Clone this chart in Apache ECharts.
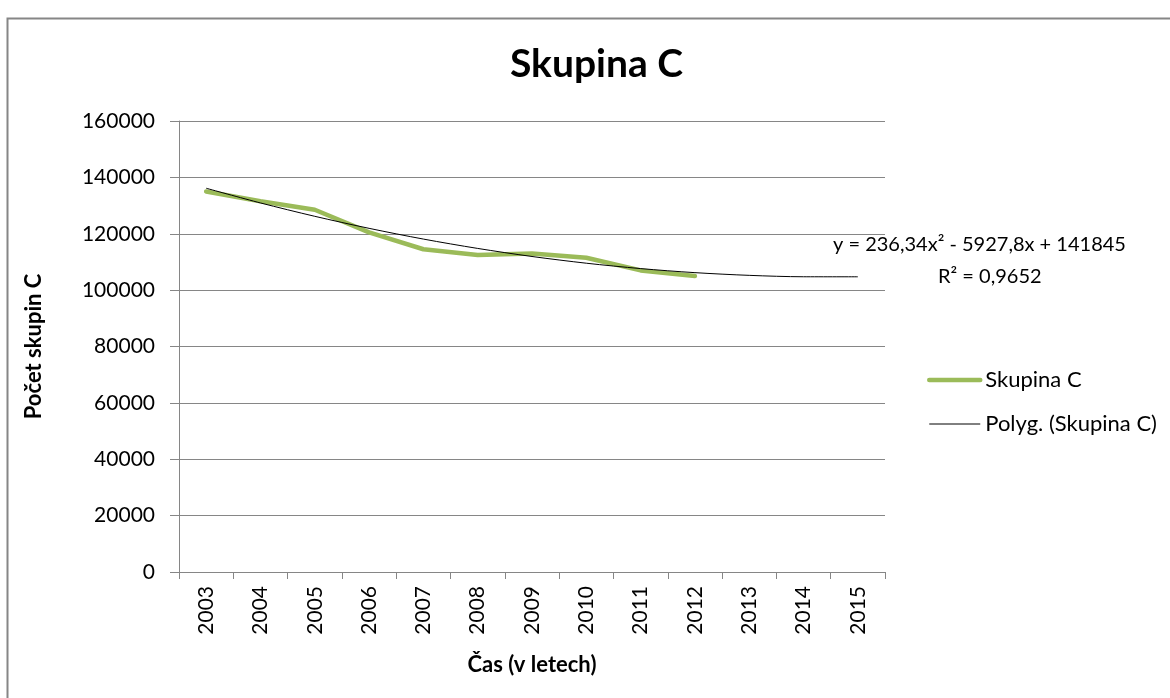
<!DOCTYPE html>
<html>
<head>
<meta charset="utf-8">
<title>Skupina C</title>
<script src="https://cdn.jsdelivr.net/npm/echarts@6/dist/echarts.min.js"></script>
<style>
  html, body { margin: 0; padding: 0; background: #fff; }
  #chart { width: 1170px; height: 698px; }
</style>
</head>
<body>
<div id="chart"></div>
<script>
var years = ['2003', '2004', '2005', '2006', '2007', '2008', '2009', '2010', '2011', '2012', '2013', '2014', '2015'];
var skupinaC = [135000, 131500, 128500, 120500, 114500, 112500, 113000, 111500, 107000, 105000];
// polynomial trend (Excel), read at each year
var trendC = [136150, 130930, 126190, 121920, 118110, 114790, 111930, 109550, 107640, 106200, 105240, 104740, 104730];
var yTicks = [0, 20000, 40000, 60000, 80000, 100000, 120000, 140000, 160000];

var font = 'Lato, "Open Sans", sans-serif';
var gray = '#868686';

var chart = echarts.init(document.getElementById('chart'));

var option = {
    backgroundColor: '#fff',
    animation: false,
    title: {
        text: 'Skupina C',
        left: 505,
        top: 40,
        textStyle: { fontFamily: font, fontSize: 39, fontWeight: 'bold', color: '#000' }
    },
    grid: { left: 179, right: 285, top: 121, bottom: 126 },
    legend: {
        orient: 'vertical',
        left: 922,
        top: 364,
        itemWidth: 51,
        itemHeight: 12,
        itemGap: 22,
        itemStyle: { opacity: 0 },
        textStyle: { fontFamily: font, fontSize: 22, color: '#000' },
        data: [
            { name: 'Skupina C', lineStyle: { width: 4.5, color: '#9BBB59', cap: 'round' } },
            { name: 'Polyg. (Skupina C)', lineStyle: { width: 1, color: '#000' } }
        ]
    },
    xAxis: {
        type: 'category',
        data: years,
        boundaryGap: true,
        name: 'Čas (v letech)',
        nameLocation: 'middle',
        nameGap: 82,
        nameTextStyle: { fontFamily: font, fontSize: 22, fontWeight: 'bold', color: '#000' },
        axisLine: { lineStyle: { color: gray, width: 1 } },
        axisTick: { show: true, length: 7, lineStyle: { color: gray } },
        axisLabel: { rotate: 90, fontFamily: font, fontSize: 21, color: '#000', margin: 14 },
        splitLine: { show: false }
    },
    yAxis: {
        type: 'value',
        min: yTicks[0],
        max: yTicks[yTicks.length - 1],
        interval: yTicks[1] - yTicks[0],
        name: 'Počet skupin C',
        nameLocation: 'middle',
        nameGap: 134,
        nameTextStyle: { fontFamily: font, fontSize: 22, fontWeight: 'bold', color: '#000' },
        axisLine: { show: true, lineStyle: { color: gray, width: 1 } },
        axisTick: { show: true, length: 9, lineStyle: { color: gray } },
        axisLabel: {
            fontFamily: font, fontSize: 21, color: '#000', margin: 24,
            formatter: function (v) { return String(v); }
        },
        splitLine: { lineStyle: { color: gray, width: 1 } }
    },
    series: [
        {
            name: 'Skupina C',
            type: 'line',
            data: skupinaC,
            symbol: 'none',
            z: 2,
            lineStyle: { color: '#9BBB59', width: 4.5, cap: 'round', join: 'round' },
            itemStyle: { color: '#9BBB59' }
        },
        {
            name: 'Polyg. (Skupina C)',
            type: 'line',
            data: trendC,
            symbol: 'none',
            smooth: 0.3,
            z: 3,
            lineStyle: { color: '#000', width: 1 },
            itemStyle: { color: '#000' }
        }
    ],
    graphic: [
        {
            type: 'rect',
            left: 5,
            top: 16,
            silent: true,
            shape: { width: 1200, height: 800 },
            style: { fill: 'none', stroke: gray, lineWidth: 2 }
        },
        {
            type: 'text',
            left: 833,
            top: 235,
            style: { text: 'y = 236,34x² - 5927,8x + 141845', font: '20px ' + font, fill: '#000' }
        },
        {
            type: 'text',
            left: 938,
            top: 267,
            style: { text: 'R² = 0,9652', font: '20px ' + font, fill: '#000' }
        }
    ]
};

chart.setOption(option);
</script>
</body>
</html>
